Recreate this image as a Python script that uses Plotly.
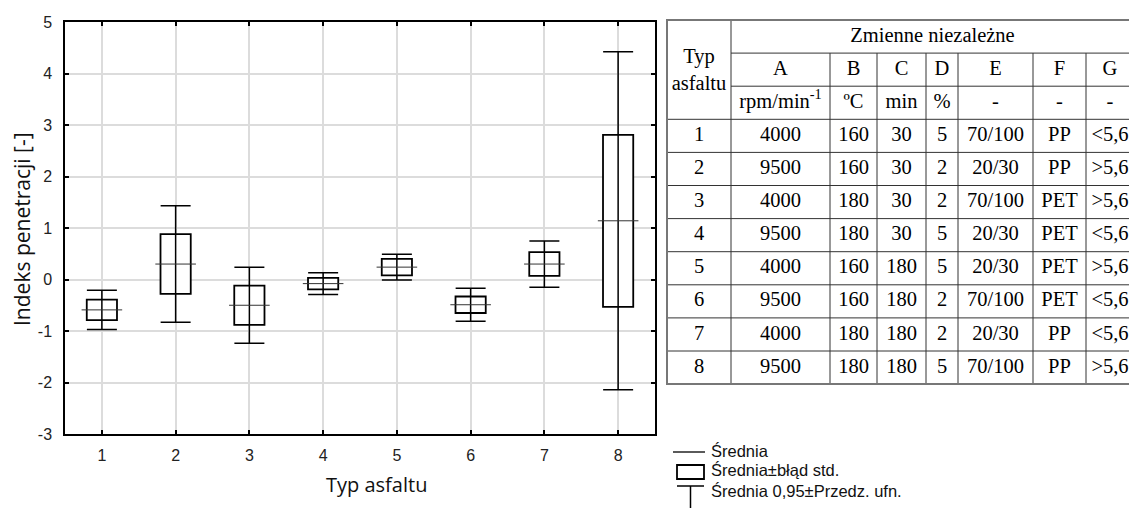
import plotly.graph_objects as go

# ---------------- data ----------------
types = [1, 2, 3, 4, 5, 6, 7, 8]
mean = [-0.59, 0.30, -0.50, -0.08, 0.24, -0.49, 0.30, 1.14]
std_err = [0.20, 0.58, 0.38, 0.11, 0.16, 0.16, 0.23, 1.67]
conf95 = [0.38, 1.13, 0.74, 0.21, 0.25, 0.32, 0.45, 3.28]

y_ticks = [-3, -2, -1, 0, 1, 2, 3, 4, 5]
y_tick_text = ["-3", "-2", "-1", "0", "1", "2", "3", "4", "5"]

table_letters = ["A", "B", "C", "D", "E", "F", "G"]
table_units = ["rpm/min<sup>-1</sup>", "ºC", "min", "%", "-", "-", "-"]
col_A = ["4000", "9500", "4000", "9500", "4000", "9500", "4000", "9500"]
col_B = ["160", "160", "180", "180", "160", "160", "180", "180"]
col_C = ["30", "30", "30", "30", "180", "180", "180", "180"]
col_D = ["5", "2", "2", "5", "5", "2", "2", "5"]
col_E = ["70/100", "20/30", "70/100", "20/30", "20/30", "70/100", "20/30", "70/100"]
col_F = ["PP", "PP", "PET", "PET", "PET", "PET", "PP", "PP"]
col_G = ["&lt;5,6", "&gt;5,6", "&gt;5,6", "&lt;5,6", "&gt;5,6", "&lt;5,6", "&lt;5,6", "&gt;5,6"]

# ---------------- layout geometry (pixels) ----------------
W, H = 1129, 508
ML, MR, MT, MB = 65, 0, 16, 74
PW, PH = W - ML - MR, H - MT - MB


def px(x):
    return (x - ML) / PW


def py(y):
    return (H - MB - y) / PH


col_w = [64, 99, 47, 49, 32, 75, 53, 48]
row_h = [33.1] * 11
col_edges = [0]
for w in col_w:
    col_edges.append(col_edges[-1] + w)
row_edges = [0]
for h in row_h:
    row_edges.append(row_edges[-1] + h)
col_c = [(col_edges[i] + col_edges[i + 1]) / 2 for i in range(len(col_w))]
row_c = [(row_edges[i] + row_edges[i + 1]) / 2 for i in range(len(row_h))]

fig = go.Figure()

# boxes: mean +- standard error
fig.add_trace(go.Bar(
    x=types, y=[2 * s for s in std_err], base=[m - s for m, s in zip(mean, std_err)],
    width=0.41, marker=dict(color="white", line=dict(color="black", width=1.8)),
    showlegend=False, hoverinfo="skip"))

# whiskers: mean +- 95% CI, with mean line
fig.add_trace(go.Scatter(
    x=types, y=mean, mode="markers",
    marker=dict(symbol="line-ew", size=29, color="#333", line=dict(color="#333", width=1)),
    error_y=dict(type="data", array=conf95, visible=True, color="black", thickness=1.5, width=15),
    showlegend=False))

# ---------------- table (drawn on its own hidden axes) ----------------
data_cols = [col_A, col_B, col_C, col_D, col_E, col_F, col_G]
tx, ty, tt = [], [], []
tx.append(col_c[0]); ty.append((row_edges[0] + row_edges[3]) / 2 + 2); tt.append("Typ<br>asfaltu")
tx.append((col_edges[1] + col_edges[-1]) / 2); ty.append(row_c[0]); tt.append("Zmienne niezależne")
for j, (L, U) in enumerate(zip(table_letters, table_units)):
    tx.append(col_c[j + 1]); ty.append(row_c[1]); tt.append(L)
    tx.append(col_c[j + 1]); ty.append(row_c[2]); tt.append(U)
for i, t in enumerate(types):
    tx.append(col_c[0]); ty.append(row_c[3 + i]); tt.append(str(t))
    for j, col in enumerate(data_cols):
        tx.append(col_c[j + 1]); ty.append(row_c[3 + i]); tt.append(col[i])

fig.add_trace(go.Scatter(
    x=tx, y=ty, text=tt, mode="text", xaxis="x2", yaxis="y2",
    textfont=dict(family="Liberation Serif", size=20.5, color="black"),
    showlegend=False, hoverinfo="skip"))

shapes = []
inner = dict(color="#333", width=1)
shapes.append(dict(type="line", xref="x2", yref="y2", x0=col_edges[1], x1=col_edges[-1] + 20,
                   y0=row_edges[1], y1=row_edges[1], line=inner))
shapes.append(dict(type="line", xref="x2", yref="y2", x0=col_edges[1], x1=col_edges[-1] + 20,
                   y0=row_edges[2], y1=row_edges[2], line=inner))
for r in row_edges[3:-1]:
    shapes.append(dict(type="line", xref="x2", yref="y2", x0=0, x1=col_edges[-1] + 20,
                       y0=r, y1=r, line=inner))
shapes.append(dict(type="line", xref="x2", yref="y2", x0=col_edges[1], x1=col_edges[1],
                   y0=0, y1=row_edges[-1], line=inner))
for c in col_edges[2:-1]:
    shapes.append(dict(type="line", xref="x2", yref="y2", x0=c, x1=c,
                       y0=row_edges[1], y1=row_edges[-1], line=inner))
shapes.append(dict(type="rect", xref="x2", yref="y2", x0=0, x1=col_edges[-1] + 20,
                   y0=0, y1=row_edges[-1], line=dict(color="#777", width=2)))

# ---------------- legend (custom symbols) ----------------
shapes.append(dict(type="line", xref="paper", yref="paper", x0=px(673), x1=px(705),
                   y0=py(452), y1=py(452), line=dict(color="black", width=1.3)))
shapes.append(dict(type="rect", xref="paper", yref="paper", x0=px(677), x1=px(704),
                   y0=py(465), y1=py(479), line=dict(color="black", width=1.8)))
shapes.append(dict(type="line", xref="paper", yref="paper", x0=px(677), x1=px(704),
                   y0=py(486), y1=py(486), line=dict(color="black", width=1.5)))
shapes.append(dict(type="line", xref="paper", yref="paper", x0=px(690.5), x1=px(690.5),
                   y0=py(486), y1=py(510), line=dict(color="black", width=1.5)))

legend_texts = ["Średnia", "Średnia±błąd std.", "Średnia 0,95±Przedz. ufn."]
legend_y = [451, 470, 491]
annotations = []
for t, yy in zip(legend_texts, legend_y):
    annotations.append(dict(text=t, xref="paper", yref="paper", x=px(709), y=py(yy),
                            xanchor="left", yanchor="middle", showarrow=False,
                            font=dict(family="Liberation Sans", size=16.5, color="#111")))

annotations.append(dict(text="Typ asfaltu", xref="paper", yref="paper", x=px(376), y=py(484),
                        xanchor="center", yanchor="middle", showarrow=False,
                        font=dict(family="Open Sans", size=20, color="#111")))
annotations.append(dict(text="Indeks penetracji [-]", xref="paper", yref="paper", x=px(22), y=py(229),
                        xanchor="center", yanchor="middle", showarrow=False, textangle=-90,
                        font=dict(family="Open Sans", size=21, color="#111")))

axis_common = dict(ticks="inside", ticklen=4, tickcolor="black", tickwidth=1.5,
                   showline=True, linecolor="black", linewidth=1.5, mirror="ticks",
                   showgrid=True, gridcolor="#dcdcdc", gridwidth=1.5, zeroline=False,
                   tickfont=dict(family="Liberation Sans", size=16, color="#222"))

fig.update_layout(
    width=W, height=H, margin=dict(l=ML, r=MR, t=MT, b=MB),
    paper_bgcolor="white", plot_bgcolor="white",
    xaxis=dict(domain=[0, px(655)], range=[0.5, 8.5], tickvals=types,
               ticklabelstandoff=6, **axis_common),
    yaxis=dict(domain=[0, py(22)], range=[-3, 5], tickvals=y_ticks, ticktext=y_tick_text,
               ticklabelstandoff=8, **axis_common),
    xaxis2=dict(domain=[px(663), 1], range=[-4, W - 667], visible=False, anchor="y2"),
    yaxis2=dict(domain=[py(388), 1], range=[388 - 20, 16 - 20], visible=False, anchor="x2"),
    shapes=shapes, annotations=annotations,
)

fig.write_html("out.html")
